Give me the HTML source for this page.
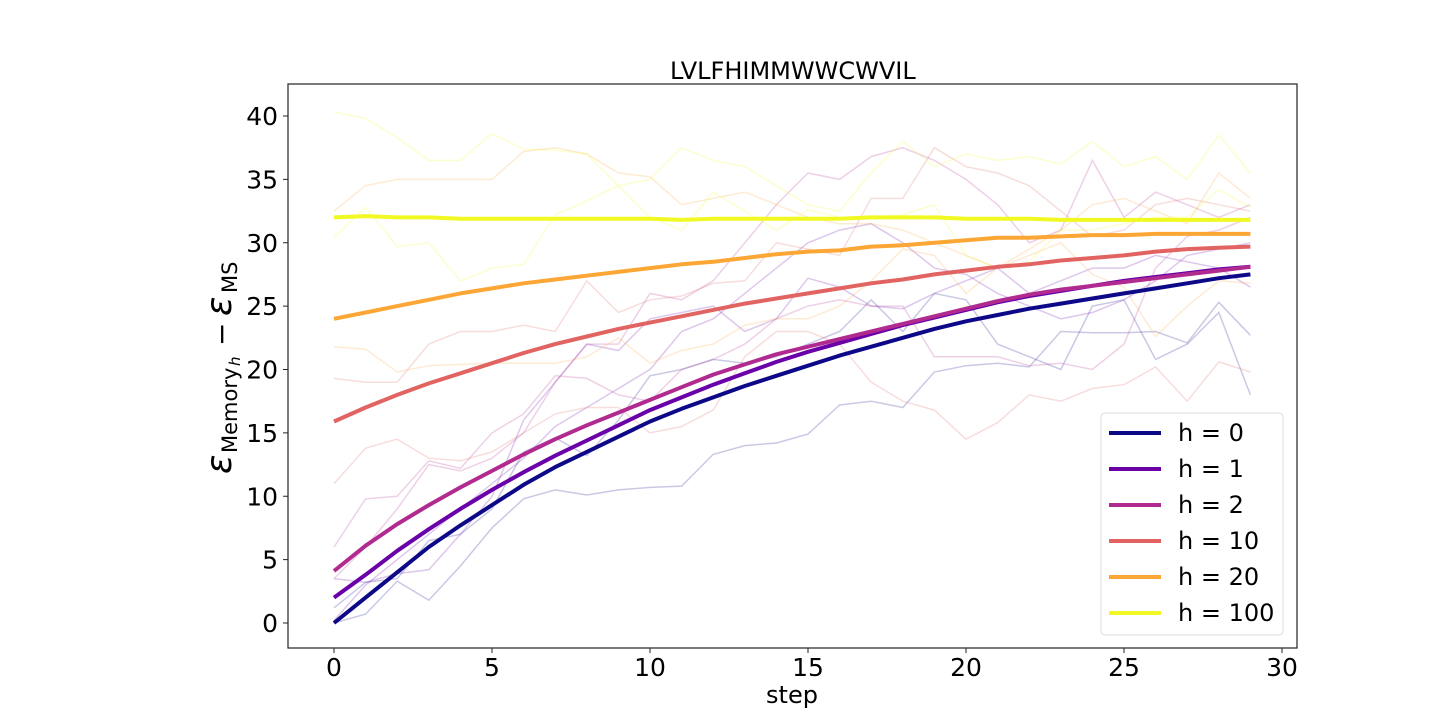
<!DOCTYPE html>
<html><head><meta charset="utf-8">
<style>
body{margin:0;background:#fff;}
svg{display:block;font-family:"DejaVu Sans","Liberation Sans",sans-serif;}
</style></head>
<body>
<svg id="chart" width="1440" height="720">
<rect x="0" y="0" width="1440" height="720" fill="#fff"/>
<text x="670" y="79" font-size="24">LVLFHIMMWWCWVIL</text>
<text x="792" y="703" font-size="24" text-anchor="middle">step</text>
<g transform="translate(231,367) rotate(-90)">
<text x="-107" y="0" font-size="36" font-style="italic">ε</text>
<text x="-86" y="6" font-size="21">Memory</text>
<text x="1" y="9" font-size="15" font-style="italic">h</text>
<text x="21" y="0" font-size="28">−</text>
<text x="51" y="0" font-size="36" font-style="italic">ε</text>
<text x="74" y="6" font-size="21">MS</text>
</g>
<g id="faint"></g>
<g id="means"></g>
<g id="axes"></g>
<g id="legend"></g>
</svg>
<script>
const steps=[...Array(30).keys()];
const xTicks=[0,5,10,15,20,25,30];
const yTicks=[0,5,10,15,20,25,30,35,40];
const hLabels=["h = 0","h = 1","h = 2","h = 10","h = 20","h = 100"];
const colors=["#0d0887","#6a00a8","#b12a90","#e16462","#fca636","#f0f921"];
const mean0=[0,2,4,6,7.7,9.3,10.9,12.3,13.5,14.7,15.9,16.9,17.8,18.7,19.5,20.3,21.1,21.8,22.5,23.2,23.8,24.3,24.8,25.2,25.6,26,26.4,26.8,27.2,27.5];
const mean1=[2,3.8,5.7,7.4,9,10.5,11.9,13.2,14.4,15.6,16.8,17.8,18.8,19.7,20.6,21.4,22.1,22.8,23.5,24.1,24.7,25.3,25.8,26.2,26.6,27,27.3,27.6,27.9,28.1];
const mean2=[4.1,6.1,7.8,9.3,10.7,12,13.3,14.5,15.6,16.6,17.6,18.6,19.6,20.4,21.2,21.8,22.4,23,23.6,24.2,24.8,25.4,25.9,26.3,26.6,26.9,27.2,27.5,27.8,28.1];
const mean10=[15.9,17,18,18.9,19.7,20.5,21.3,22,22.6,23.2,23.7,24.2,24.7,25.2,25.6,26,26.4,26.8,27.1,27.5,27.8,28.1,28.3,28.6,28.8,29,29.3,29.5,29.6,29.7];
const mean20=[24,24.5,25,25.5,26,26.4,26.8,27.1,27.4,27.7,28,28.3,28.5,28.8,29.1,29.3,29.4,29.7,29.8,30,30.2,30.4,30.4,30.5,30.6,30.6,30.7,30.7,30.7,30.7];
const mean100=[32,32.1,32,32,31.9,31.9,31.9,31.9,31.9,31.9,31.9,31.8,31.9,31.9,31.9,31.9,31.9,32,32,32,31.9,31.9,31.9,31.8,31.8,31.8,31.8,31.8,31.8,31.8];
const runs0a=[0,0.7,3.3,1.8,4.5,7.5,9.8,10.5,10.1,10.5,10.7,10.8,13.3,14,14.2,14.9,17.2,17.5,17,19.8,20.3,20.5,20.2,23,22.9,22.9,23,22.1,25.3,22.7];
const runs0b=[1.2,3.2,3.5,6.5,7,9,13.5,14.6,13.2,16,19.5,20,20.8,20.5,21,22,23,25.5,23,26,25.5,22,21,20,25,25.5,20.8,22,24.5,18];
const runs1a=[0.2,3,5,7,9,11,13,15.5,17,18.5,20,23,24,26,28,30,31,31.5,30,28,27.5,26,25,24,24.5,25.5,27,29,29.5,30];
const runs1b=[3.5,3.2,3.9,4.2,7,10,16,19,22,21.5,24,24.5,25,23,24,27.2,26.5,25,24.8,26,27,28,26,27,28,28,29,28.5,28,26.5];
const runs2a=[6,9.8,10,12.8,12.2,15,16.5,19.5,19.3,18,17.5,20,20.8,22,24,25,25.5,25,25,21,21,21,20.3,20.5,20,22,28,30.5,31,32];
const runs2b=[3.5,6,9,12.5,12,13,15,19,22,22,26,25.5,27,30,33,35.5,35,36.8,37.5,36.5,35,33,30,31,36.5,32,34,33,32,33];
const runs10a=[19.3,19,19,22,23,23,23.5,23,27,24.5,25.5,25.8,26.8,27,30,29.5,29,33.5,33.5,37.5,36,35.5,34.5,32.5,30.5,31,33,33.5,33,32.5];
const runs10b=[11,13.8,14.5,13,12.8,13.5,15,16.5,17,17,15,15.5,16.8,21,23,23,22,19,17.5,16.8,14.5,15.8,18,17.5,18.5,18.8,20.2,17.5,20.6,19.8];
const runs20a=[21.8,21.6,19.8,20.3,20.4,20.5,20.5,20.5,21,22.5,20.5,21.5,22,23.5,24,24,25,27,29.5,29,26,28,29,30,27.5,26.5,22.6,25,27,26.8];
const runs20b=[32.5,34.5,35,35,35,35,37.2,37.5,37,35.5,35.2,33,33.5,34,33,32,31.5,31.5,31,30,29,28,29.5,31,33,33.5,32.5,31.5,35.5,33.5];
const runs100a=[40.3,39.8,38.3,36.5,36.5,38.6,37.4,37.3,37,34.5,35,37.5,36.5,36,34.5,33,32.5,35.5,38,36,37,36.5,36.8,36.2,38,36,36.8,35,38.5,35.5];
const runs100b=[30.4,32.8,29.7,30,27,28,28.3,32.2,33.3,34.5,32,31,34,32.5,31,32.6,32,32,32.2,33,29,28,28.5,31,31,31.5,32,32,34.2,32.8];

const NS="http://www.w3.org/2000/svg";
const X0=288,X1=1297,Y0=84,Y1=648;
const xs=v=>334+v*(1282-334)/30;
const ys=v=>623-v*(623-116)/40;
function mk(t,a,p){const e=document.createElementNS(NS,t);for(const k in a)e.setAttribute(k,a[k]);p.appendChild(e);return e;}
const pts=arr=>arr.map((v,i)=>xs(steps[i]).toFixed(1)+","+ys(v).toFixed(1)).join(" ");
const faint=document.getElementById("faint");
const runs=[[runs0a,runs0b],[runs1a,runs1b],[runs2a,runs2b],[runs10a,runs10b],[runs20a,runs20b],[runs100a,runs100b]];
runs.forEach((rs,k)=>rs.forEach((r,j)=>{
  const l=mk("polyline",{points:pts(r),fill:"none",stroke:colors[k],"stroke-width":1.5,"stroke-opacity":0.22},faint);
  
  
}));
const means=[mean0,mean1,mean2,mean10,mean20,mean100];
const mg=document.getElementById("means");
means.forEach((m,k)=>{
  const l=mk("polyline",{points:pts(m),fill:"none",stroke:colors[k],"stroke-width":4,"stroke-linejoin":"round"},mg);
  
  
});
const ax=document.getElementById("axes");
const fr=mk("rect",{x:X0,y:Y0,width:X1-X0,height:Y1-Y0,fill:"none",stroke:"#222","stroke-width":1.2},ax);


xTicks.forEach(t=>{
  mk("line",{x1:xs(t),x2:xs(t),y1:Y1,y2:Y1+5,stroke:"#222"},ax);
  const tx=mk("text",{x:xs(t),y:676,"font-size":25,"text-anchor":"middle"},ax);tx.textContent=t;
  
  
});
yTicks.forEach(t=>{
  mk("line",{x1:X0-5,x2:X0,y1:ys(t),y2:ys(t),stroke:"#222"},ax);
  const tx=mk("text",{x:X0-10,y:ys(t)+9,"font-size":25,"text-anchor":"end"},ax);tx.textContent=t;
  
  
});
const lg=document.getElementById("legend");


mk("rect",{x:1101,y:413,width:182,height:222,rx:4,fill:"#fff","fill-opacity":0.8,stroke:"#ddd"},lg);
hLabels.forEach((h,k)=>{
  const y=433+k*36;
  const g=mk("g",{},lg);
  
  
  mk("line",{x1:1109,x2:1161,y1:y,y2:y,stroke:colors[k],"stroke-width":4},g);
  const t=mk("text",{x:1178,y:y+8,"font-size":24},g);t.textContent=h;
});
</script>
</body></html>
